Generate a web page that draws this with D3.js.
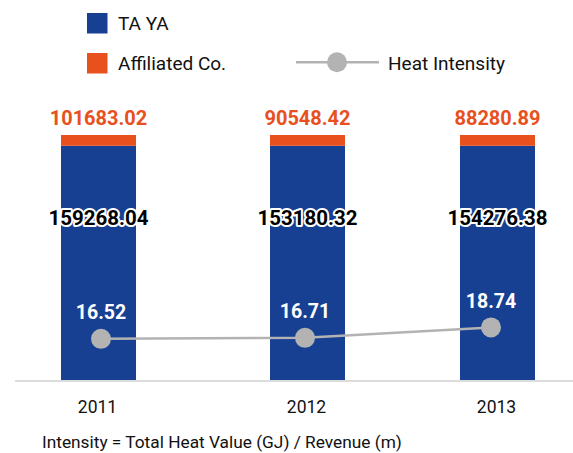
<!DOCTYPE html>
<html>
<head>
<meta charset="utf-8">
<script src="https://cdn.jsdelivr.net/npm/d3@7"></script>
<style>
  html, body { margin: 0; padding: 0; background: #fff; }
  svg { display: block; font-family: Roboto, "Open Sans", sans-serif; }
</style>
</head>
<body>
<div id="chart"></div>
<script>
// data
var years = ['2011', '2012', '2013'];
var tayaValues = [159268.04, 153180.32, 154276.38];
var affiliatedValues = [101683.02, 90548.42, 88280.89];
var intensityValues = [16.52, 16.71, 18.74];
var footnote = 'Intensity = Total Heat Value (GJ) / Revenue (m)';

var colors = { taya: '#174093', affiliated: '#e8501e', line: '#b3b3b3', axis: '#dcdcdc' };

var W = 573, H = 453;
var svg = d3.select('#chart').append('svg').attr('width', W).attr('height', H);

// the columns in the source are drawn as equal-height blocks, not to value scale
var xBar = d3.scaleOrdinal().domain(years).range([98.5, 307.5, 497.5]);
var xLine = d3.scaleOrdinal().domain(years).range([101, 305, 491]);
var barW = 75;
var yBar = d3.scaleLinear().domain([0, 1]).range([380, 135]);
var capShare = 0.044;
var yLine = d3.scaleLinear().domain([10, 25]).range([372.4, 295.2]);

function fmt(v) { return d3.format('.2f')(v); }

// axis line
svg.append('line')
  .attr('x1', 15).attr('x2', W)
  .attr('y1', 381).attr('y2', 381)
  .attr('stroke', colors.axis).attr('stroke-width', 2);

// bars
var bars = svg.selectAll('.bar').data(years).enter().append('g').attr('class', 'bar');
bars.append('rect')
  .attr('x', function(d) { return xBar(d) - barW / 2; })
  .attr('y', yBar(1 - capShare))
  .attr('width', barW)
  .attr('height', yBar(0) - yBar(1 - capShare))
  .attr('fill', colors.taya);
bars.append('rect')
  .attr('x', function(d) { return xBar(d) - barW / 2; })
  .attr('y', yBar(1))
  .attr('width', barW)
  .attr('height', yBar(1 - capShare) - yBar(1))
  .attr('fill', colors.affiliated);

// affiliated labels
svg.selectAll('.aff-label').data(affiliatedValues).enter().append('text')
  .attr('class', 'aff-label')
  .attr('x', function(d, i) { return xBar(years[i]); })
  .attr('y', 125)
  .attr('text-anchor', 'middle')
  .attr('font-size', 20).attr('font-weight', 'bold')
  .attr('fill', colors.affiliated)
  .text(fmt);

// TA YA labels with white halo
svg.selectAll('.taya-label').data(tayaValues).enter().append('text')
  .attr('class', 'taya-label')
  .attr('x', function(d, i) { return xBar(years[i]); })
  .attr('y', 225)
  .attr('text-anchor', 'middle')
  .attr('font-size', 20.5).attr('font-weight', 'bold')
  .attr('fill', '#000')
  .attr('stroke', '#fff').attr('stroke-width', 4)
  .attr('stroke-linejoin', 'round')
  .attr('paint-order', 'stroke')
  .text(fmt);

// intensity line
var line = d3.line()
  .x(function(d, i) { return xLine(years[i]); })
  .y(function(d) { return yLine(d); });
svg.append('path')
  .datum(intensityValues)
  .attr('d', line)
  .attr('fill', 'none')
  .attr('stroke', colors.line)
  .attr('stroke-width', 2.5);
svg.selectAll('.dot').data(intensityValues).enter().append('circle')
  .attr('cx', function(d, i) { return xLine(years[i]); })
  .attr('cy', function(d) { return yLine(d); })
  .attr('r', 10)
  .attr('fill', colors.line);
svg.selectAll('.int-label').data(intensityValues).enter().append('text')
  .attr('x', function(d, i) { return xLine(years[i]); })
  .attr('y', function(d) { return yLine(d) - 19.5; })
  .attr('text-anchor', 'middle')
  .attr('font-size', 19.5).attr('font-weight', 'bold')
  .attr('fill', '#fff')
  .text(fmt);

// year labels
svg.selectAll('.year').data(years).enter().append('text')
  .attr('x', function(d) { return xBar(d) - 1; })
  .attr('y', 412.5)
  .attr('text-anchor', 'middle')
  .attr('font-size', 17.5)
  .attr('fill', '#111')
  .text(function(d) { return d; });

// footnote
svg.append('text')
  .attr('x', 42).attr('y', 447.5)
  .attr('font-size', 17.3)
  .attr('fill', '#111')
  .text(footnote);

// legend
var legend = svg.append('g');
legend.append('rect').attr('x', 87).attr('y', 13).attr('width', 20.5).attr('height', 20.5).attr('fill', colors.taya);
legend.append('text').attr('x', 118).attr('y', 30).attr('font-size', 19).attr('fill', '#111').text('TA YA');
legend.append('rect').attr('x', 87).attr('y', 53).attr('width', 20.5).attr('height', 20.5).attr('fill', colors.affiliated);
legend.append('text').attr('x', 118).attr('y', 70).attr('font-size', 19).attr('fill', '#111').text('Affiliated Co.');
legend.append('line').attr('x1', 296).attr('x2', 379).attr('y1', 62.3).attr('y2', 62.3)
  .attr('stroke', colors.line).attr('stroke-width', 2.5);
legend.append('circle').attr('cx', 337).attr('cy', 62.3).attr('r', 10).attr('fill', colors.line);
legend.append('text').attr('x', 388).attr('y', 70).attr('font-size', 19).attr('fill', '#111').text('Heat Intensity');
</script>
</body>
</html>
